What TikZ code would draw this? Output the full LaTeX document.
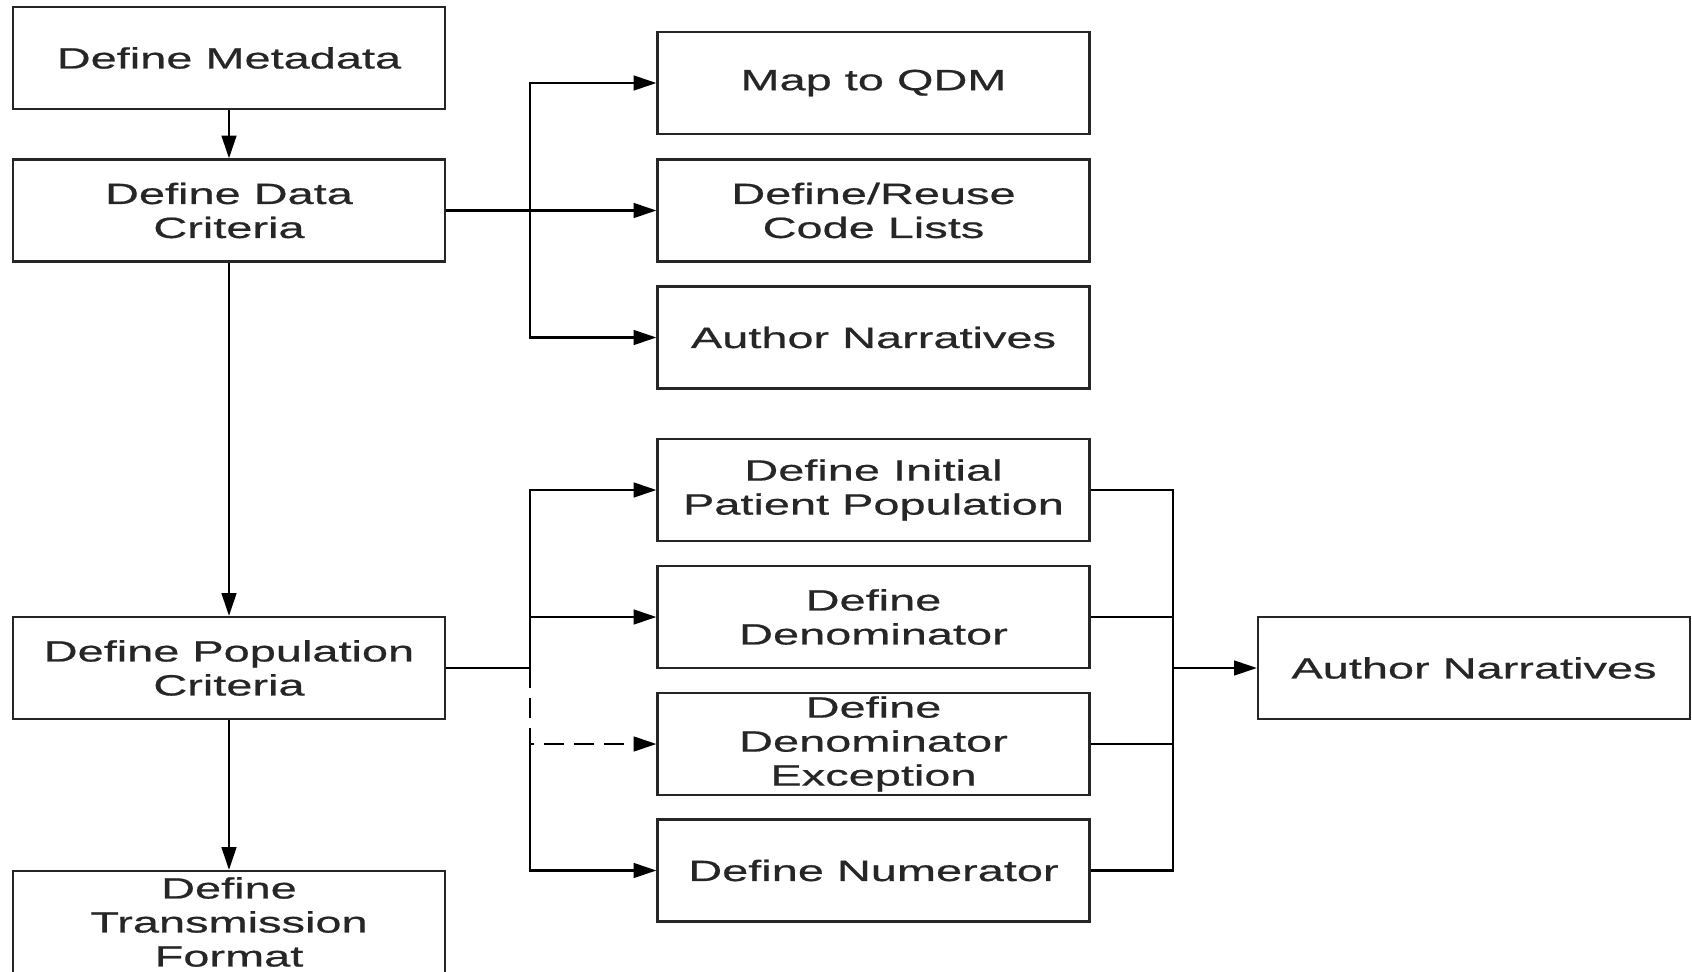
\documentclass[tikz,border=0pt]{standalone}
\usepackage{fontspec}
\setmainfont{Liberation Sans}[FakeStretch=1.6,FakeBold=0.6]
\usetikzlibrary{arrows.meta}

\tikzset{every picture/.style={line width=1.7pt}}
\tikzset{
  box/.style={draw=black!85, fill=white, minimum width=324pt, minimum height=76.5pt,
    inner sep=0pt, align=center, text=black!85, font=\fontsize{22}{25.5}\selectfont},
  arr/.style={-{Triangle[length=17pt,width=11pt]}},
  dashline/.style={dash pattern=on 15pt off 7.5pt}
}

\begin{document}
\begin{tikzpicture}[x=0.75pt,y=0.75pt,yscale=-1,xscale=1]
	\useasboundingbox (0,0) rectangle (1692,971);
	
	% Left column
	\node[box] (meta) at (229,58) {Define Metadata};
	\node[box] (data) at (229,210.5) {Define Data\\Criteria};
	\node[box] (popc) at (229,668) {Define Population\\Criteria};
	\node[box] (trans) at (229,922) {Define\\Transmission\\Format};
	
	% Data criteria branch
	\node[box] (qdm) at (873.5,83) {Map to QDM};
	\node[box] (codes) at (873.5,210.5) {Define/Reuse\\Code Lists};
	\node[box] (narr) at (873.5,337.5) {Author Narratives};
	
	% Population criteria branch
	\node[box] (ipp) at (873.5,490) {Define Initial\\Patient Population};
	\node[box] (denom) at (873.5,617) {Define\\Denominator};
	\node[box] (excep) at (873.5,744) {Define\\Denominator\\Exception};
	\node[box] (numer) at (873.5,870.5) {Define Numerator};
	\node[box] (narrb) at (1474,668) {Author Narratives};
	
	% Bus points
	\coordinate (dbus) at (530,210.5);
	\coordinate (pbus) at (530,668);
	\coordinate (rbus) at (1173,668);
	
	% Main flow
	\draw[arr] (meta) -- (data);
	\draw[arr] (data) -- (popc);
	\draw[arr] (popc) -- (trans);
	
	% Data criteria connectors
	\draw[arr] (data) -- (codes);
	\draw[arr] (dbus) |- (qdm);
	\draw[arr] (dbus) |- (narr);
	
	% Population criteria connectors
	\draw (popc) -- (pbus);
	\draw[arr] (pbus) |- (ipp);
	\draw[arr] (pbus) |- (denom);
	\draw[arr,dashline] (pbus) |- (excep);
	\draw[arr] (pbus |- excep) |- (numer);
	
	% Merge into narratives
	\foreach \n in {ipp,denom,excep,numer}
		\draw (\n.east) -| (rbus);
	\draw[arr] (rbus) -- (narrb);
	
\end{tikzpicture}
\end{document}
